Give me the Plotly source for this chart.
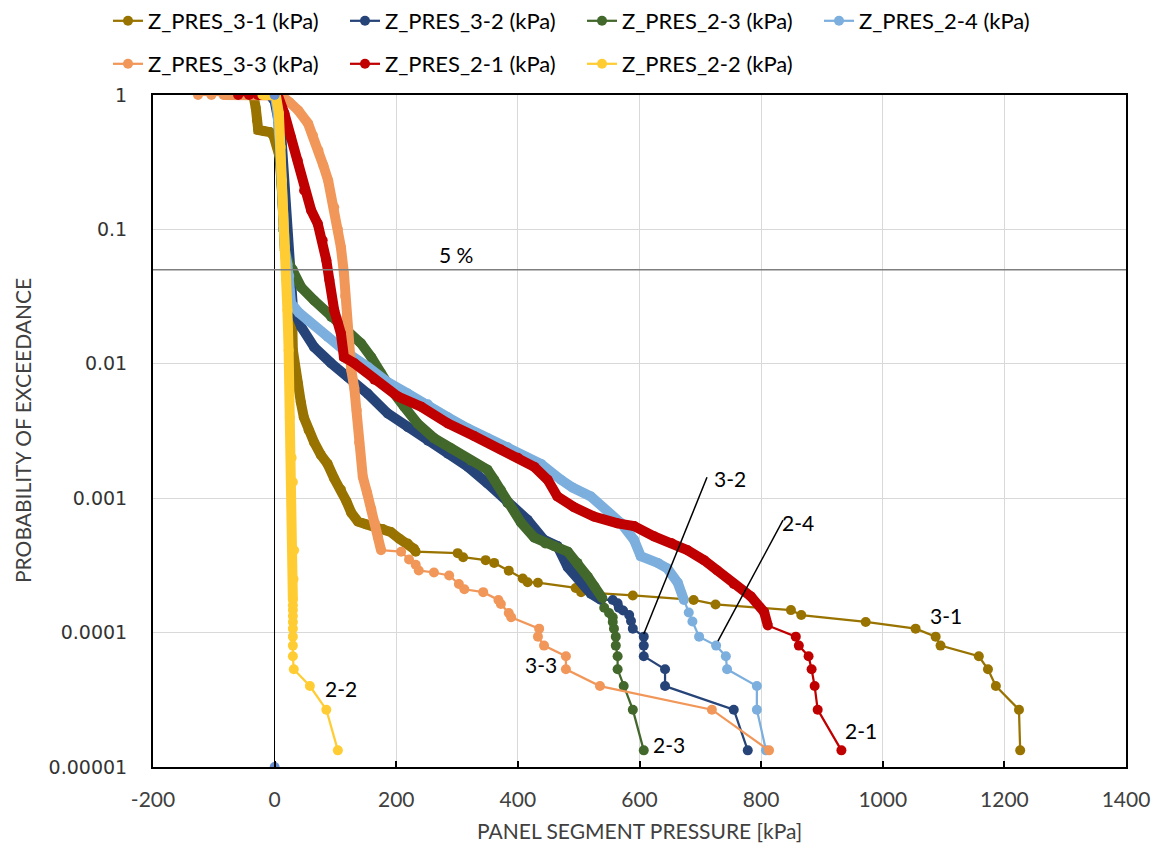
import math
import plotly.graph_objects as go

# ---------------- data ----------------
s31_x = [-38, -34, -31, -29, -27, -18, -8, -2, 8, 12,
         14, 17, 22, 25, 27, 29, 30, 34, 38, 43,
         48, 56, 65, 76, 87, 98, 109, 118, 126, 137,
         150, 164, 178, 191, 205, 219, 229, 232,
         301, 310, 347, 361, 385, 408, 416, 433, 495, 504,
         589, 689, 725, 849, 866, 972, 1054, 1087, 1095, 1158,
         1173, 1186, 1224, 1226]
s31_y = [1.0, 0.95, 0.8, 0.65, 0.55, 0.54, 0.53, 0.5, 0.35, 0.2,
         0.12, 0.07, 0.045, 0.035, 0.03, 0.02, 0.0126, 0.009, 0.0072, 0.0052,
         0.004, 0.0032, 0.0026, 0.0021, 0.0018, 0.0014, 0.00116, 0.00095, 0.00078, 0.00067,
         0.00064, 0.00062, 0.00059, 0.00056, 0.0005, 0.00046, 0.00042, 0.0004,
         0.00039, 0.000364, 0.000346, 0.00033, 0.000289, 0.000253, 0.000237, 0.000235, 0.000215, 0.0002,
         0.000189, 0.000175, 0.000162, 0.000147, 0.000135, 0.00012, 0.000107, 0.0000933, 0.00008, 0.0000667,
         0.0000533, 0.00004, 0.0000267, 0.0000133]

s32_x = [-8, 0, 11, 16, 19, 22, 25, 27, 30, 44,
         65, 93, 120, 153, 186, 219, 252, 285, 318, 350,
         383, 416, 443, 465, 482, 504, 520, 537,
         556, 564, 566, 573, 583, 586, 589, 607, 607, 607,
         642, 642, 755, 778]
s32_y = [1.0, 0.9, 0.5, 0.2, 0.1, 0.07, 0.05, 0.035, 0.0263, 0.0187,
         0.0133, 0.0101, 0.008, 0.006, 0.00427, 0.00337, 0.00268, 0.00214, 0.00171, 0.00129,
         0.00092, 0.00069, 0.00049, 0.00044, 0.000307, 0.000244, 0.000195, 0.000175,
         0.000175, 0.000165, 0.000153, 0.000146, 0.000135, 0.000122, 0.000107, 0.0000933, 0.00008, 0.0000667,
         0.0000533, 0.00004, 0.0000267, 0.0000133]

s23_x = [-78, -60, -40, -20, 0, 5, 9, 12, 14, 17,
         22, 30, 44, 65, 93, 120, 142, 159, 175, 192,
         213, 235, 262, 290, 323, 350, 361, 372, 383, 405,
         427, 445, 460, 482, 498, 515, 526, 539,
         542, 550, 556, 556, 558, 561, 561, 564, 564, 574,
         589, 607]
s23_y = [1, 1, 1, 1, 1, 0.8, 0.4, 0.2, 0.1, 0.07,
         0.058, 0.05, 0.037, 0.0296, 0.0223, 0.0178, 0.0142, 0.0112, 0.0085, 0.0064,
         0.0048, 0.0036, 0.0028, 0.00235, 0.0019, 0.00163, 0.00137, 0.00115, 0.00092, 0.00066,
         0.00051, 0.00046, 0.00044, 0.0004, 0.00033, 0.00026, 0.00022, 0.00018,
         0.000153, 0.00014, 0.00013, 0.00012, 0.000107, 0.0000933, 0.00008, 0.0000667, 0.0000533, 0.00004,
         0.0000267, 0.0000133]

s24_x = [0, 4, 9, 12, 14, 17, 21, 24, 25, 27,
         40, 55, 87, 120, 153, 186, 219, 252, 285, 318,
         350, 383, 416, 438, 471, 490, 520, 548, 570, 591,
         602, 630, 646, 663, 673,
         681, 687, 698, 726, 742, 744, 793, 793, 808]
s24_y = [1, 0.8, 0.4, 0.2, 0.1, 0.07, 0.055, 0.045, 0.035, 0.0283,
         0.024, 0.021, 0.0159, 0.012, 0.0095, 0.0073, 0.006, 0.005, 0.004, 0.0033,
         0.0028, 0.0024, 0.002, 0.0018, 0.00137, 0.0012, 0.00103, 0.00078, 0.00065, 0.00049,
         0.00037, 0.00033, 0.0003, 0.000235, 0.000175,
         0.000141, 0.000121, 0.0000933, 0.00008, 0.0000667, 0.0000533, 0.00004, 0.0000267, 0.0000133]

s33_x = [-126, -104, -84, -60, -30, 0, 11, 25, 39, 55,
         63, 72, 80, 88, 98, 104, 109, 114, 116, 118,
         122, 126, 131, 135, 139, 145, 152, 159, 165, 170,
         175,
         208, 221, 232, 237, 262, 287, 303, 312, 343, 368,
         372, 385, 389, 435, 433, 443, 479, 479, 535, 719,
         813]
s33_y = [1, 1, 1, 1, 1, 1, 0.99, 0.88, 0.767, 0.614,
         0.5, 0.387, 0.3, 0.231, 0.146, 0.1, 0.0735, 0.047, 0.032, 0.022,
         0.0127, 0.009, 0.0066, 0.0045, 0.0026, 0.00144, 0.0011, 0.00083, 0.00065, 0.00051,
         0.00041,
         0.0004, 0.00035, 0.00032, 0.00029, 0.00028, 0.000266, 0.00023, 0.00021, 0.0002, 0.000175,
         0.000163, 0.00014, 0.00013, 0.000107, 0.0000933, 0.00008, 0.0000667, 0.0000533, 0.00004, 0.0000267,
         0.0000133]

s21_x = [-60, -42, -28, -15, 0, 5, 16, 27, 38, 48.5,
         60, 71, 79, 85, 90, 98, 109, 114, 131, 164,
         203, 241, 285, 328, 372, 400, 427, 449, 465, 492,
         525, 564, 591, 624, 652, 679, 706, 728, 755, 783,
         805, 811,
         857, 862, 878, 883, 888, 893, 932]
s21_y = [1, 1, 1, 1, 1, 1, 0.73, 0.48, 0.326, 0.195,
         0.139, 0.11, 0.083, 0.059, 0.042, 0.025, 0.0168, 0.0112, 0.0101, 0.0076,
         0.0057, 0.0048, 0.0036, 0.0029, 0.0023, 0.002, 0.00171, 0.00137, 0.00103, 0.00086,
         0.00073, 0.00065, 0.00062, 0.00052, 0.000465, 0.00041, 0.000346, 0.00029, 0.00023, 0.000186,
         0.000142, 0.000113,
         0.0000933, 0.00008, 0.0000667, 0.0000533, 0.00004, 0.0000267, 0.0000133]

s22_x = [-20, -10, 2, 7, 10, 12, 14, 16.5, 19, 21,
         23, 25, 28, 30, 32, 31, 30,
         30, 30, 30, 30, 30, 30, 30, 30, 31.5, 58, 85, 104]
s22_y = [1, 1, 1, 0.73, 0.41, 0.231, 0.131, 0.074, 0.042, 0.025,
         0.0126, 0.004, 0.002, 0.00132, 0.00041, 0.00025, 0.000175,
         0.00016, 0.000147, 0.000133, 0.00012, 0.000107, 0.0000933, 0.00008, 0.0000667,
         0.0000533, 0.00004, 0.0000267, 0.0000133]

axis_pts_x = [0, 0]
axis_pts_y = [1, 0.00001]

x_ticks = [-200, 0, 200, 400, 600, 800, 1000, 1200, 1400]
x_tick_text = ["-200", "0", "200", "400", "600", "800", "1000", "1200", "1400"]
y_ticks = [1, 0.1, 0.01, 0.001, 0.0001, 0.00001]
y_tick_text = ["1", "0.1", "0.01", "0.001", "0.0001", "0.00001"]

threshold = 0.05
labels = [("5 %", 298, 0.0652), ("3-1", 1104, 0.000135), ("3-2", 749, 0.00141),
          ("2-4", 861, 0.000664), ("3-3", 438, 0.0000583), ("2-3", 648, 0.0000146),
          ("2-2", 109, 0.0000386), ("2-1", 964, 0.0000188)]
callouts = [((607, 0.0000975), (711, 0.00143)), ((729, 0.0000865), (836, 0.000686))]

# name, x, y, dense-band slice, colour, legend
series = [
    ("Z_PRES_3-1 (kPa)", s31_x, s31_y, (0, 38), "#997300", "legend"),
    ("Z_PRES_3-2 (kPa)", s32_x, s32_y, (0, 28), "#264478", "legend"),
    ("Z_PRES_2-3 (kPa)", s23_x, s23_y, (0, 38), "#43682B", "legend"),
    ("Z_PRES_2-4 (kPa)", s24_x, s24_y, (0, 35), "#7CAFDD", "legend"),
    ("Z_PRES_3-3 (kPa)", s33_x, s33_y, (2, 31), "#F1975A", "legend2"),
    ("Z_PRES_2-1 (kPa)", s21_x, s21_y, (2, 42), "#C00000", "legend2"),
    ("Z_PRES_2-2 (kPa)", s22_x, s22_y, (0, 17), "#FFCD33", "legend2"),
]

TXT = "Lato"
fig = go.Figure()
for name, xs, ys, (a, b), col, lg in series:
    fig.add_trace(go.Scatter(x=xs[a:b], y=ys[a:b], mode="lines",
                             line=dict(color=col, width=10),
                             showlegend=False, hoverinfo="skip", legend=lg))
    fig.add_trace(go.Scatter(x=xs, y=ys, mode="lines+markers", name=name,
                             line=dict(color=col, width=2.25),
                             marker=dict(color=col, size=10), legend=lg))

fig.add_trace(go.Scatter(x=axis_pts_x, y=axis_pts_y, mode="markers",
                         marker=dict(color="#698ED0", size=10), showlegend=False))

shapes = [dict(type="line", xref="paper", x0=0, x1=1, yref="y", y0=threshold, y1=threshold,
               line=dict(color="#7F7F7F", width=1.5), layer="above")]
for (p0, p1) in callouts:
    shapes.append(dict(type="line", xref="x", yref="y", x0=p0[0], y0=p0[1], x1=p1[0], y1=p1[1],
                       line=dict(color="black", width=1.5), layer="above"))

annotations = []
for t, lx, ly in labels:
    annotations.append(dict(text=t, x=lx, y=math.log10(ly), xref="x", yref="y",
                            showarrow=False, font=dict(family=TXT, size=21, color="black")))
annotations.append(dict(text="PANEL SEGMENT PRESSURE [kPa]", xref="paper", yref="paper",
                        x=0.5, y=-0.094, yanchor="middle", showarrow=False,
                        font=dict(family=TXT, size=21, color="#404040")))
annotations.append(dict(text="PROBABILITY OF EXCEEDANCE", xref="paper", yref="paper",
                        x=-0.1346, y=0.5, textangle=-90, xanchor="center", yanchor="middle",
                        showarrow=False, font=dict(family=TXT, size=21, color="#404040")))

# page body has an 8px default margin: figure is drawn 8px right/down of the window origin
W, H = 1151, 842
ML, MR, MT, MB = 145, 33, 87, 83
PW, PH = W - ML - MR, H - MT - MB

leg_common = dict(orientation="h", xref="paper", yref="paper", xanchor="left",
                  yanchor="middle", entrywidth=192, bgcolor="rgba(0,0,0,0)",
                  font=dict(family=TXT, size=22, color="black"))

fig.update_layout(
    width=W, height=H,
    margin=dict(l=ML, r=MR, t=MT, b=MB, autoexpand=False),
    plot_bgcolor="white", paper_bgcolor="white",
    legend=dict(x=(100 - ML) / PW, y=1 + (MT - 13) / PH, **leg_common),
    legend2=dict(x=(100 - ML) / PW, y=1 + (MT - 56) / PH, **leg_common),
    shapes=shapes, annotations=annotations,
    xaxis=dict(range=[-200, 1400], tickvals=x_ticks, ticktext=x_tick_text, automargin=False,
               showgrid=True, gridcolor="#D9D9D9", gridwidth=1,
               zeroline=True, zerolinecolor="black", zerolinewidth=1,
               showline=True, linecolor="black", linewidth=2, mirror=True,
               ticks="inside", ticklen=6, tickwidth=2, tickcolor="black",
               tickfont=dict(family=TXT, size=21, color="#404040"), ticklabelstandoff=13),
    yaxis=dict(type="log", range=[-5, 0], tickvals=y_ticks, ticktext=y_tick_text, automargin=False,
               showgrid=True, gridcolor="#D9D9D9", gridwidth=1,
               showline=True, linecolor="black", linewidth=2, mirror=True, ticks="",
               tickfont=dict(family="DejaVu Sans", size=19, color="#333333"), ticklabelstandoff=20),
)

fig.write_html("out.html")
